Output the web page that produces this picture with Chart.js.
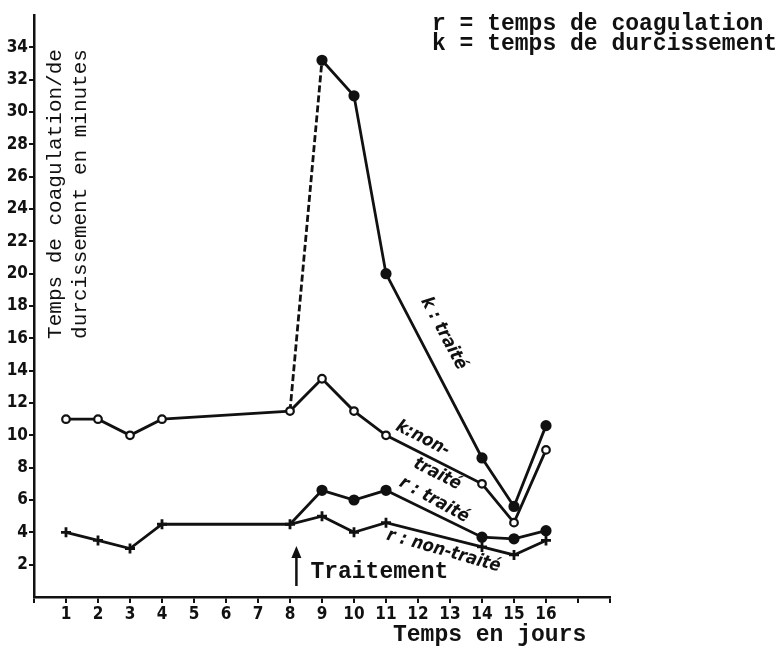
<!DOCTYPE html>
<html>
<head>
<meta charset="utf-8">
<script src="https://cdn.jsdelivr.net/npm/chart.js@4/dist/chart.umd.min.js"></script>
<style>
  body { margin: 0; background: #fff; }
  canvas { display: block; }
</style>
</head>
<body>
<canvas id="chart" width="783" height="650"></canvas>
<script>
// jours (axe x)
const joursAvant = [1, 2, 3, 4, 8, 9, 10, 11, 14, 15, 16];
const joursApres = [8, 9, 10, 11, 14, 15, 16];

// k = temps de durcissement
const kNonTraite = [11, 11, 10, 11, 11.5, 13.5, 11.5, 10, 7, 4.6, 9.1];
const kTraite = [11.5, 33.2, 31, 20, 8.6, 5.6, 10.6];

// r = temps de coagulation
const rNonTraite = [4, 3.5, 3, 4.5, 4.5, 5, 4, 4.6, 3.1, 2.6, 3.5];
const rTraite = [4.5, 6.6, 6, 6.6, 3.7, 3.6, 4.1];

const yTicks = [2, 4, 6, 8, 10, 12, 14, 16, 18, 20, 22, 24, 26, 28, 30, 32, 34];
const xTicks = [1, 2, 3, 4, 5, 6, 7, 8, 9, 10, 11, 12, 13, 14, 15, 16];

const ink = '#111';
const tickFont = { family: "'Liberation Sans Narrow', 'DejaVu Sans Condensed', sans-serif", size: 17, weight: 'bold' };
const mono = "'Liberation Mono', 'DejaVu Sans Mono', monospace";

function toPoints(xs, ys) {
  return xs.map((x, i) => ({ x: x, y: ys[i] }));
}

// textes dessines sur le graphique
const textPlugin = {
  id: 'textes',
  afterDatasetsDraw(chart) {
    const ctx = chart.ctx;
    const xs = chart.scales.x;
    const ys = chart.scales.y;
    ctx.save();
    ctx.fillStyle = ink;
    ctx.strokeStyle = ink;

    // titre axe y (a l'interieur)
    ctx.save();
    ctx.font = '21px ' + mono;
    ctx.textAlign = 'center';
    ctx.textBaseline = 'middle';
    ctx.translate(55, 194);
    ctx.rotate(-Math.PI / 2);
    ctx.fillText('Temps de coagulation/de', 0, 0);
    ctx.fillText('durcissement en minutes', 0, 25);
    ctx.restore();

    // legende en haut a droite
    ctx.font = 'bold 23px ' + mono;
    ctx.textAlign = 'left';
    ctx.textBaseline = 'middle';
    ctx.fillText('r = temps de coagulation', 432, 24);
    ctx.fillText('k = temps de durcissement', 432, 44);

    // titre axe x
    ctx.fillText('Temps en jours', 393, 635);

    // fleche traitement
    const ax = xs.getPixelForValue(8.2);
    ctx.fillText('Traitement', ax + 14, 572);
    ctx.lineWidth = 2.5;
    ctx.beginPath();
    ctx.moveTo(ax, 586);
    ctx.lineTo(ax, 555);
    ctx.stroke();
    ctx.beginPath();
    ctx.moveTo(ax - 5, 558);
    ctx.lineTo(ax, 546);
    ctx.lineTo(ax + 5, 558);
    ctx.closePath();
    ctx.fill();

    // etiquettes des courbes
    const labels = [
      { t: 'k : traité', x: 12.8, y: 16.3, a: 62 },
      { t: 'k:non-', x: 12.15, y: 9.8, a: 27 },
      { t: 'traité', x: 12.6, y: 7.6, a: 27 },
      { t: 'r : traité', x: 12.5, y: 6.0, a: 29 },
      { t: 'r : non-traité', x: 12.8, y: 2.85, a: 16 }
    ];
    ctx.font = "italic bold 18px 'DejaVu Sans Condensed', sans-serif";
    ctx.textAlign = 'center';
    labels.forEach(l => {
      ctx.save();
      ctx.translate(xs.getPixelForValue(l.x), ys.getPixelForValue(l.y));
      ctx.rotate(l.a * Math.PI / 180);
      ctx.fillText(l.t, 0, 0);
      ctx.restore();
    });
    ctx.restore();
  }
};

const lineBase = {
  borderColor: ink,
  borderWidth: 2.8,
  pointBorderColor: ink,
  pointBorderWidth: 2.2,
  tension: 0
};

new Chart(document.getElementById('chart'), {
  type: 'line',
  data: {
    datasets: [
      Object.assign({}, lineBase, {
        label: 'k : non-traité',
        data: toPoints(joursAvant, kNonTraite),
        pointStyle: 'circle',
        pointRadius: 3.8,
        pointBackgroundColor: '#fff'
      }),
      Object.assign({}, lineBase, {
        label: 'k : traité',
        data: toPoints(joursApres, kTraite),
        pointStyle: 'circle',
        pointRadius: ctx => ctx.dataIndex === 0 ? 0 : 4.5,
        pointBackgroundColor: ink,
        segment: { borderDash: ctx => ctx.p0DataIndex === 0 ? [7, 3] : undefined }
      }),
      Object.assign({}, lineBase, {
        label: 'r : non-traité',
        data: toPoints(joursAvant, rNonTraite),
        pointStyle: 'cross',
        pointRadius: 5,
        pointBorderWidth: 2.8,
        pointBackgroundColor: ink
      }),
      Object.assign({}, lineBase, {
        label: 'r : traité',
        data: toPoints(joursApres, rTraite),
        pointStyle: 'circle',
        pointRadius: ctx => ctx.dataIndex === 0 ? 0 : 4.5,
        pointBackgroundColor: ink
      })
    ]
  },
  options: {
    responsive: false,
    animation: false,
    layout: { padding: { top: 15, right: 173, left: 0, bottom: 0 } },
    plugins: { legend: { display: false }, tooltip: { enabled: false } },
    scales: {
      x: {
        type: 'linear',
        min: 0,
        max: 18,
        afterFit: s => { s.height = 53; },
        afterBuildTicks: s => { s.ticks = Array.from({ length: 19 }, (_, i) => ({ value: i })); },
        ticks: {
          autoSkip: false,
          maxRotation: 0,
          padding: 1,
          color: ink,
          font: tickFont,
          callback: v => xTicks.includes(v) ? String(v) : ''
        },
        grid: { drawOnChartArea: false, tickLength: 6, color: ink, lineWidth: 2 },
        border: { color: ink, width: 2.5 }
      },
      y: {
        min: 0,
        max: 36,
        afterFit: s => { s.width = 34; },
        afterBuildTicks: s => { s.ticks = yTicks.map(v => ({ value: v })); },
        ticks: {
          padding: 1,
          color: ink,
          font: tickFont,
          callback: v => String(v)
        },
        grid: { drawOnChartArea: false, tickLength: 5, color: ink, lineWidth: 2 },
        border: { color: ink, width: 2.5 }
      }
    }
  },
  plugins: [textPlugin]
});
</script>
</body>
</html>
